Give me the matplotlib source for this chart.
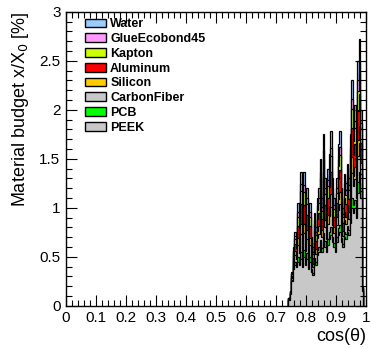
import numpy as np
import matplotlib
matplotlib.use("Agg")
import matplotlib.pyplot as plt
from matplotlib.patches import Patch
from matplotlib.ticker import MultipleLocator

plt.rcParams['font.family'] = ['Liberation Sans', 'DejaVu Sans']

# bin edges of the cos(theta) histogram (0.74 .. 0.99, width 0.005)
edges = np.round(np.arange(0.74, 0.9901, 0.005), 4)

# material budget per layer [%], bottom of stack first
peek = [.06, .12, .25, .38, .42, .40, .45, .42, .48, .40,
        .50, .42, .48, .38, .45, .35, .32, .45, .42, .52,
        .55, .60, .55, .65, .60, .55, .62, .68, .72, .65,
        .60, .55, .65, .72, .75, .65, .60, .70, .68, .75,
        .72, .85, 1.00, .95, 1.00, .90, 1.15, 1.25, 1.10, .15]
pcb = [.00, .00, .01, .02, .03, .02, .05, .03, .07, .04,
       .07, .04, .06, .03, .05, .03, .02, .04, .03, .05,
       .05, .07, .04, .09, .06, .04, .06, .07, .08, .05,
       .04, .03, .05, .07, .08, .04, .03, .05, .05, .06,
       .05, .07, .10, .08, .08, .06, .11, .12, .07, .00]
carbon = [.01, .01, .02, .04, .07, .06, .12, .09, .18, .11,
          .17, .10, .14, .08, .12, .07, .06, .10, .08, .12,
          .13, .18, .11, .22, .14, .09, .16, .17, .21, .13,
          .10, .07, .13, .19, .21, .11, .08, .13, .11, .14,
          .12, .18, .26, .19, .21, .14, .27, .29, .18, .01]
silicon = [.00, .00, .01, .03, .04, .04, .07, .05, .11, .07,
           .10, .06, .09, .05, .07, .04, .03, .06, .05, .07,
           .08, .11, .07, .13, .08, .05, .09, .10, .13, .08,
           .06, .04, .08, .11, .12, .07, .05, .08, .07, .08,
           .07, .11, .16, .11, .13, .08, .16, .18, .11, .01]
aluminum = [.01, .01, .02, .05, .07, .07, .13, .09, .20, .12,
            .19, .10, .16, .09, .13, .08, .06, .11, .08, .13,
            .14, .20, .12, .24, .15, .10, .17, .19, .23, .14,
            .11, .08, .14, .20, .23, .12, .09, .14, .13, .15,
            .13, .20, .29, .21, .23, .15, .30, .32, .20, .01]
kapton = [.00, .01, .02, .03, .05, .05, .09, .07, .13, .08,
          .13, .07, .11, .06, .09, .05, .04, .08, .06, .09,
          .10, .14, .08, .17, .11, .07, .12, .13, .16, .10,
          .08, .05, .10, .14, .15, .08, .06, .10, .09, .11,
          .09, .14, .20, .14, .16, .11, .20, .22, .14, .01]
glue = [.00, .00, .01, .02, .03, .02, .05, .03, .07, .04,
        .07, .04, .06, .03, .05, .03, .02, .04, .03, .05,
        .05, .07, .04, .09, .06, .04, .06, .07, .08, .05,
        .04, .03, .05, .07, .08, .04, .03, .05, .05, .06,
        .05, .07, .10, .08, .08, .06, .11, .12, .07, .00]
water = [.00, .00, .01, .03, .04, .04, .09, .07, .13, .09,
         .14, .07, .10, .08, .09, .05, .05, .07, .05, .07,
         .10, .13, .09, .16, .10, .06, .12, .14, .17, .10,
         .07, .05, .10, .15, .16, .09, .06, .10, .07, .10,
         .07, .13, .19, .14, .16, .10, .20, .22, .13, .01]

names = ["PEEK", "PCB", "CarbonFiber", "Silicon", "Aluminum",
         "Kapton", "GlueEcobond45", "Water"]
layers = [peek, pcb, carbon, silicon, aluminum, kapton, glue, water]
colors = ["#c8c8c8", "#00ff00", "#c8c8c8", "#ffcc00", "#ff0000",
          "#ccff00", "#ff99ff", "#99ccff"]

fig = plt.figure(figsize=(3.71, 3.48), dpi=100)
ax = fig.add_axes([0.178, 0.121, 0.809, 0.845])

cum = np.cumsum(np.array(layers), axis=0)
# draw like a THStack: top cumulative first, smaller ones over it
for k in range(len(layers) - 1, -1, -1):
    ax.stairs(cum[k], edges, baseline=0, fill=True, facecolor=colors[k],
              edgecolor="none")
    ax.stairs(cum[k], edges, baseline=0, fill=False, edgecolor="black",
              linewidth=0.9)

ax.set_xlim(0, 1)
ax.set_ylim(0, 3)
ax.xaxis.set_major_locator(MultipleLocator(0.1))
ax.xaxis.set_minor_locator(MultipleLocator(0.02))
ax.yaxis.set_major_locator(MultipleLocator(0.5))
ax.yaxis.set_minor_locator(MultipleLocator(0.1))
ax.set_xticks(np.arange(0, 1.01, 0.1))
ax.set_xticklabels(["0", "0.1", "0.2", "0.3", "0.4", "0.5", "0.6", "0.7",
                    "0.8", "0.9", "1"])
ax.set_yticks(np.arange(0, 3.01, 0.5))
ax.set_yticklabels(["0", "0.5", "1", "1.5", "2", "2.5", "3"])
ax.tick_params(which="both", direction="in", top=True, right=True,
               labelsize=11, width=0.8)
ax.tick_params(which="major", length=8, pad=4)
ax.tick_params(which="minor", length=4)
for s in ax.spines.values():
    s.set_linewidth(1.0)

ax.set_xlabel("cos(θ)", fontsize=13, loc="right", labelpad=2)
ax.set_ylabel("Material budget x/X$_0$ [%]", fontsize=13, loc="top",
              labelpad=6)

handles = [Patch(facecolor=colors[k], edgecolor="black", linewidth=1.0,
                 label=names[k]) for k in range(len(layers) - 1, -1, -1)]
ax.legend(handles=handles, loc="upper left", bbox_to_anchor=(0.045, 0.995),
          frameon=False, prop={"weight": "bold", "size": 9},
          handlelength=1.75, handleheight=0.7, handletextpad=0.3,
          labelspacing=0.22, borderaxespad=0)

fig.savefig("out.png", dpi=100)
